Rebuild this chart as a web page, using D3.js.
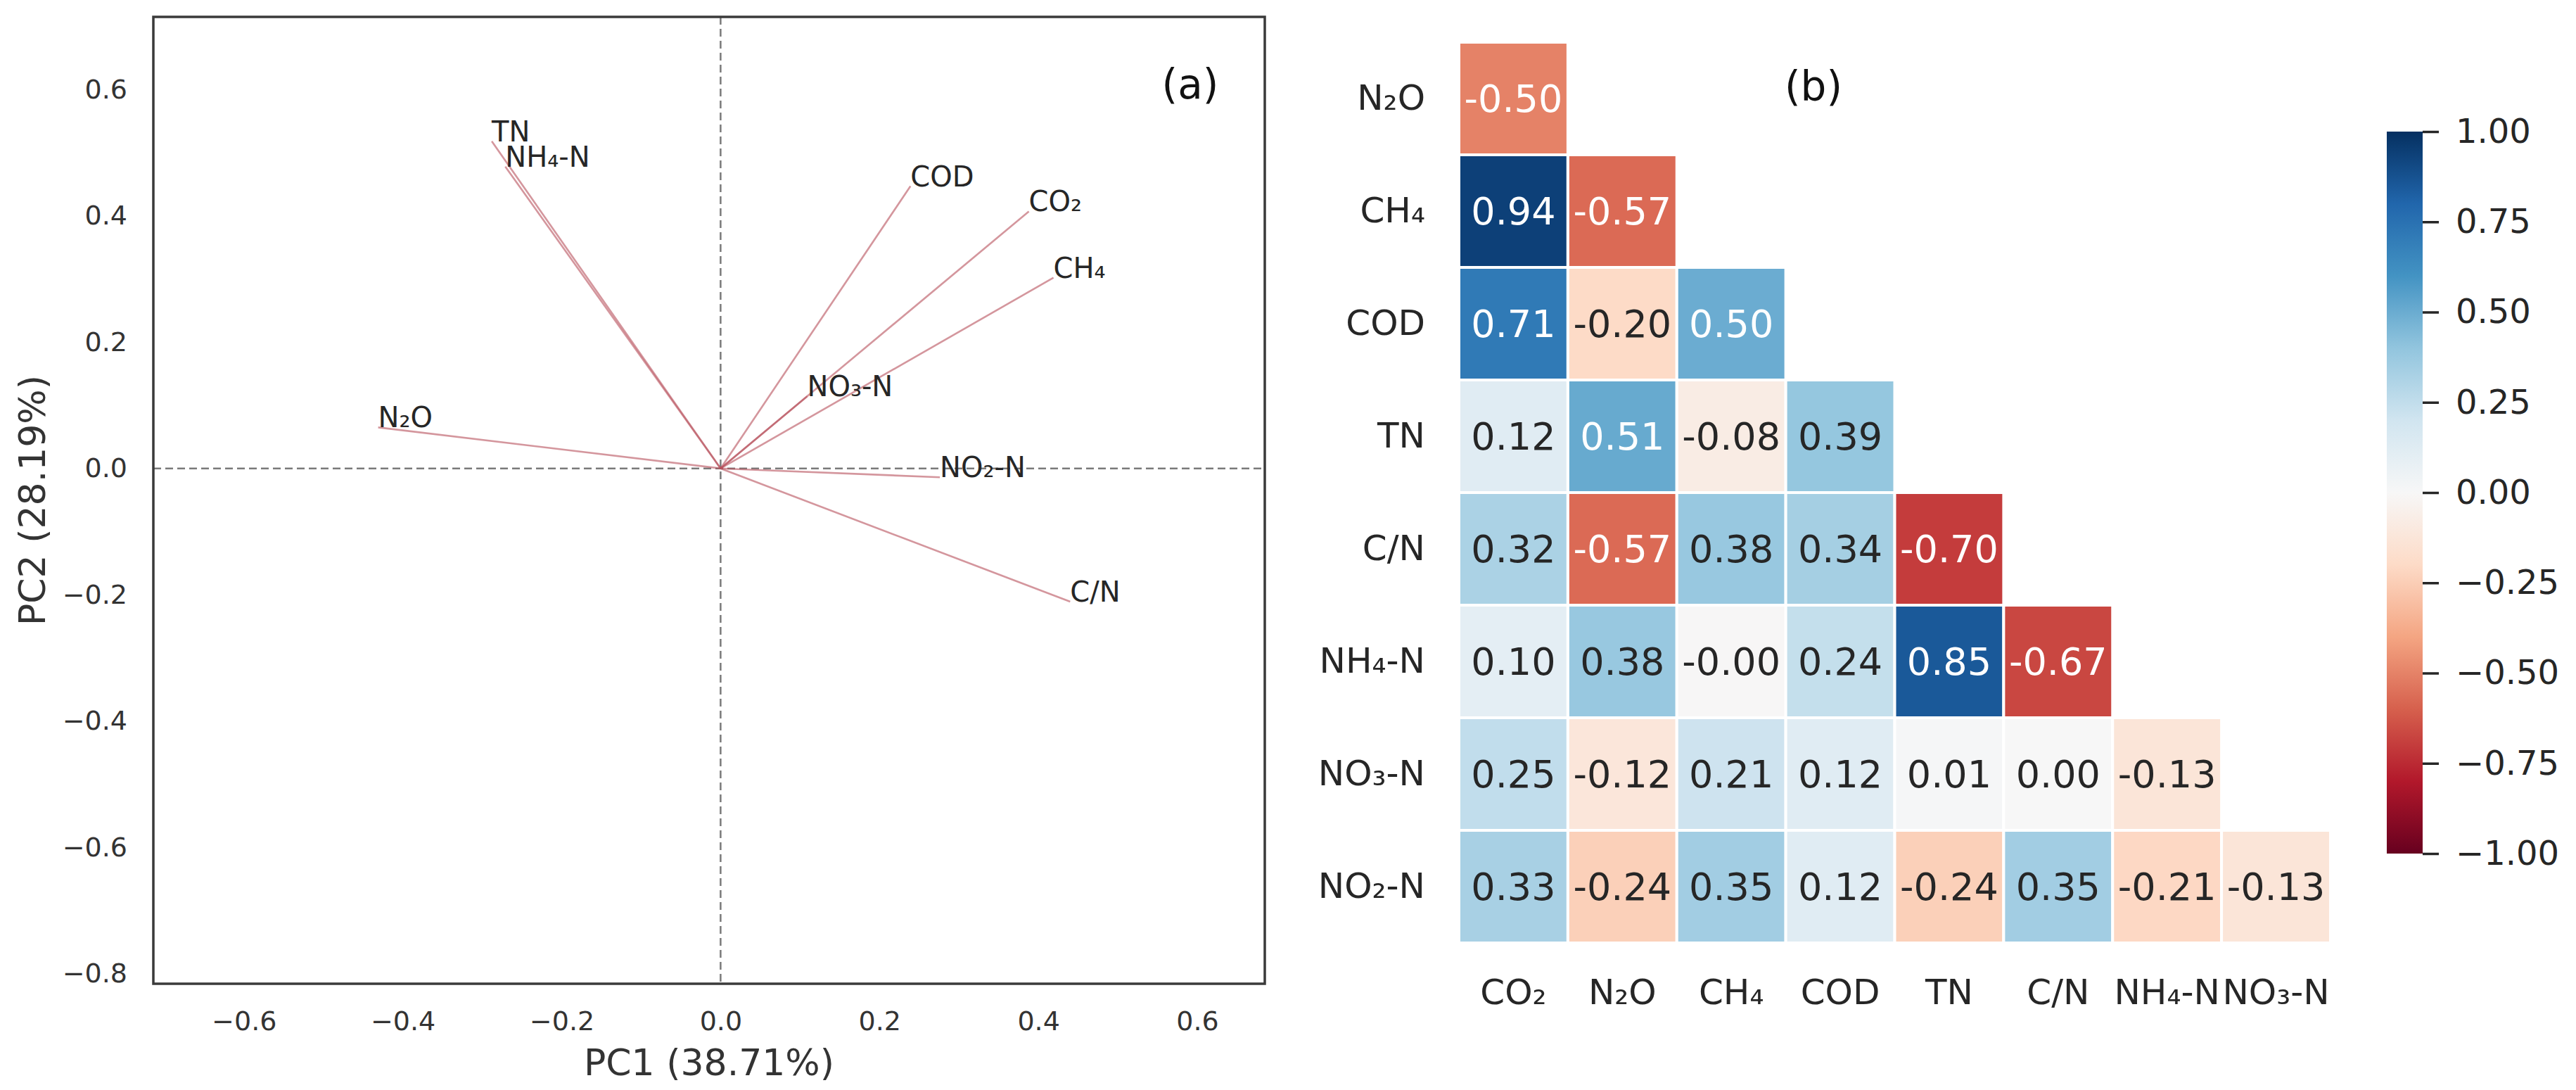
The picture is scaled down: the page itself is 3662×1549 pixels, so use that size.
<!DOCTYPE html>
<html>
<head>
<meta charset="utf-8">
<script src="https://cdn.jsdelivr.net/npm/d3@7"></script>
<style>
  html, body { margin: 0; padding: 0; background: #ffffff; }
  svg { display: block; font-family: "DejaVu Sans", sans-serif; }
</style>
</head>
<body>
<svg id="chart" width="3662" height="1549"></svg>
<script>
// ---------------- DATA ----------------
// (a) PCA loadings
const pcaVars = ["CO₂", "N₂O", "CH₄", "COD", "TN", "C/N", "NH₄-N", "NO₃-N", "NO₂-N"];
const pc1Loadings = [0.388, -0.431, 0.419, 0.239, -0.288, 0.440, -0.271, 0.109, 0.276];
const pc2Loadings = [0.407, 0.065, 0.302, 0.447, 0.518, -0.211, 0.478, 0.114, -0.014];
const pcaXTicks = [-0.6, -0.4, -0.2, 0.0, 0.2, 0.4, 0.6];
const pcaYTicks = [-0.8, -0.6, -0.4, -0.2, 0.0, 0.2, 0.4, 0.6];
const pc1Label = "PC1 (38.71%)";
const pc2Label = "PC2 (28.19%)";

// (b) correlation heatmap (lower triangle)
const heatRows = ["N₂O", "CH₄", "COD", "TN", "C/N", "NH₄-N", "NO₃-N", "NO₂-N"];
const heatCols = ["CO₂", "N₂O", "CH₄", "COD", "TN", "C/N", "NH₄-N", "NO₃-N"];
const rowN2O  = [-0.50];
const rowCH4  = [0.94, -0.57];
const rowCOD  = [0.71, -0.20, 0.50];
const rowTN   = [0.12, 0.51, -0.08, 0.39];
const rowCN   = [0.32, -0.57, 0.38, 0.34, -0.70];
const rowNH4  = [0.10, 0.38, -0.004, 0.24, 0.85, -0.67];
const rowNO3  = [0.25, -0.12, 0.21, 0.12, 0.01, 0.00, -0.13];
const rowNO2  = [0.33, -0.24, 0.35, 0.12, -0.24, 0.35, -0.21, -0.13];
const corrRows = [rowN2O, rowCH4, rowCOD, rowTN, rowCN, rowNH4, rowNO3, rowNO2];
const cbarTicks = [-1.00, -0.75, -0.50, -0.25, 0.00, 0.25, 0.50, 0.75, 1.00];
const rdbuColors = ["#67001f","#b2182b","#d6604d","#f4a582","#fddbc7","#f7f7f7",
                    "#d1e5f0","#92c5de","#4393c3","#2166ac","#053061"];

// ---------------- SETUP ----------------
const svg = d3.select("#chart");
const textColor = "#262626";

// ================= (a) PCA biplot =================
const ax = { left: 218, right: 1798, top: 24, bottom: 1398 };
const x = d3.scaleLinear().domain([-0.714, 0.685]).range([ax.left, ax.right]);
const y = d3.scaleLinear().domain([-0.816, 0.715]).range([ax.bottom, ax.top]);

const gA = svg.append("g");

// zero dashed lines
gA.append("line")
  .attr("x1", ax.left).attr("x2", ax.right)
  .attr("y1", y(0)).attr("y2", y(0))
  .attr("stroke", "#7a7a7a").attr("stroke-width", 2.5)
  .attr("stroke-dasharray", "11,6");
gA.append("line")
  .attr("x1", x(0)).attr("x2", x(0))
  .attr("y1", ax.top).attr("y2", ax.bottom)
  .attr("stroke", "#7a7a7a").attr("stroke-width", 2.5)
  .attr("stroke-dasharray", "11,6");

// loading lines
const loadings = pcaVars.map((v, i) => ({ name: v, px: pc1Loadings[i], py: pc2Loadings[i] }));
gA.selectAll("line.load").data(loadings).enter().append("line")
  .attr("class", "load")
  .attr("x1", x(0)).attr("y1", y(0))
  .attr("x2", d => x(d.px)).attr("y2", d => y(d.py))
  .attr("stroke", "#b8505c").attr("stroke-opacity", 0.6)
  .attr("stroke-width", 2.6);

gA.selectAll("text.load").data(loadings).enter().append("text")
  .attr("class", "load")
  .attr("x", d => x(d.px)).attr("y", d => y(d.py))
  .attr("font-size", 40).attr("fill", textColor)
  .text(d => d.name);

// axes
const xAxis = d3.axisBottom(x).tickValues(pcaXTicks).tickFormat(d3.format(".1f")).tickSize(0).tickPadding(39);
const yAxis = d3.axisLeft(y).tickValues(pcaYTicks).tickFormat(d3.format(".1f")).tickSize(0).tickPadding(37);
const gx = gA.append("g").attr("transform", `translate(0,${ax.bottom})`).call(xAxis);
const gy = gA.append("g").attr("transform", `translate(${ax.left},0)`).call(yAxis);
[gx, gy].forEach(g => {
  g.select(".domain").remove();
  g.selectAll("text").attr("font-size", 38).attr("fill", "#333333").attr("font-family", "DejaVu Sans");
});

// frame
gA.append("rect")
  .attr("x", ax.left).attr("y", ax.top)
  .attr("width", ax.right - ax.left).attr("height", ax.bottom - ax.top)
  .attr("fill", "none").attr("stroke", "#3a3a3a").attr("stroke-width", 3.5);

// axis labels
gA.append("text")
  .attr("x", (ax.left + ax.right) / 2).attr("y", 1528)
  .attr("text-anchor", "middle").attr("font-size", 52).attr("fill", "#333333")
  .text(pc1Label);
gA.append("text")
  .attr("transform", `translate(64,${(ax.top + ax.bottom) / 2}) rotate(-90)`)
  .attr("text-anchor", "middle").attr("font-size", 52).attr("fill", "#333333")
  .text(pc2Label);

gA.append("text")
  .attr("x", 1692).attr("y", 140)
  .attr("text-anchor", "middle").attr("font-size", 58).attr("fill", "#111111")
  .text("(a)");

// ================= (b) correlation heatmap =================
const hx = d3.scaleBand().domain(heatCols).range([2074, 3313]).padding(0);
const hy = d3.scaleBand().domain(heatRows).range([60, 1340]).padding(0);
const color = d3.scaleLinear()
  .domain(d3.range(11).map(i => -1 + i * 0.2))
  .range(rdbuColors)
  .interpolate(d3.interpolateRgb)
  .clamp(true);

function relLum(c) {
  const rgb = d3.rgb(c);
  const f = v => { v /= 255; return v <= 0.03928 ? v / 12.92 : Math.pow((v + 0.055) / 1.055, 2.4); };
  return 0.2126 * f(rgb.r) + 0.7152 * f(rgb.g) + 0.0722 * f(rgb.b);
}

const cells = [];
corrRows.forEach((row, i) => {
  row.forEach((v, j) => cells.push({ r: heatRows[i], c: heatCols[j], v }));
});

const gB = svg.append("g");
gB.selectAll("rect.cell").data(cells).enter().append("rect")
  .attr("class", "cell")
  .attr("x", d => hx(d.c)).attr("y", d => hy(d.r))
  .attr("width", hx.bandwidth()).attr("height", hy.bandwidth())
  .attr("fill", d => color(d.v))
  .attr("stroke", "#ffffff").attr("stroke-width", 4);

gB.selectAll("text.cell").data(cells).enter().append("text")
  .attr("class", "cell")
  .attr("x", d => hx(d.c) + hx.bandwidth() / 2)
  .attr("y", d => hy(d.r) + hy.bandwidth() / 2)
  .attr("dy", "0.36em")
  .attr("text-anchor", "middle").attr("font-size", 54)
  .attr("fill", d => relLum(color(d.v)) > 0.408 ? textColor : "#ffffff")
  .text(d => d.v.toFixed(2));

// heatmap tick labels
const hxAxis = d3.axisBottom(hx).tickSize(0).tickPadding(51);
const hyAxis = d3.axisLeft(hy).tickSize(0).tickPadding(48);
const ghx = gB.append("g").attr("transform", "translate(0,1340)").call(hxAxis);
const ghy = gB.append("g").attr("transform", "translate(2074,0)").call(hyAxis);
[ghx, ghy].forEach(g => {
  g.select(".domain").remove();
  g.selectAll("text").attr("font-size", 50).attr("fill", textColor).attr("font-family", "DejaVu Sans");
});

gB.append("text")
  .attr("x", 2578).attr("y", 143)
  .attr("text-anchor", "middle").attr("font-size", 58).attr("fill", "#111111")
  .text("(b)");

// colorbar
const cb = { x: 3393, w: 51, top: 187, bottom: 1213 };
const cbScale = d3.scaleLinear().domain([-1, 1]).range([cb.bottom, cb.top]);
const defs = svg.append("defs");
const grad = defs.append("linearGradient").attr("id", "cbgrad")
  .attr("x1", "0").attr("y1", "1").attr("x2", "0").attr("y2", "0");
rdbuColors.forEach((c, i) => {
  grad.append("stop").attr("offset", (i / (rdbuColors.length - 1))).attr("stop-color", c);
});
gB.append("rect")
  .attr("x", cb.x).attr("y", cb.top).attr("width", cb.w).attr("height", cb.bottom - cb.top)
  .attr("fill", "url(#cbgrad)");
const cbAxis = d3.axisRight(cbScale).tickValues(cbarTicks).tickFormat(d3.format(".2f")).tickSize(23).tickPadding(24);
const gcb = gB.append("g").attr("transform", `translate(${cb.x + cb.w},0)`).call(cbAxis);
gcb.select(".domain").remove();
gcb.selectAll("line").attr("stroke", textColor).attr("stroke-width", 3.5);
gcb.selectAll("text").attr("font-size", 48).attr("fill", textColor).attr("font-family", "DejaVu Sans");
</script>
</body>
</html>
